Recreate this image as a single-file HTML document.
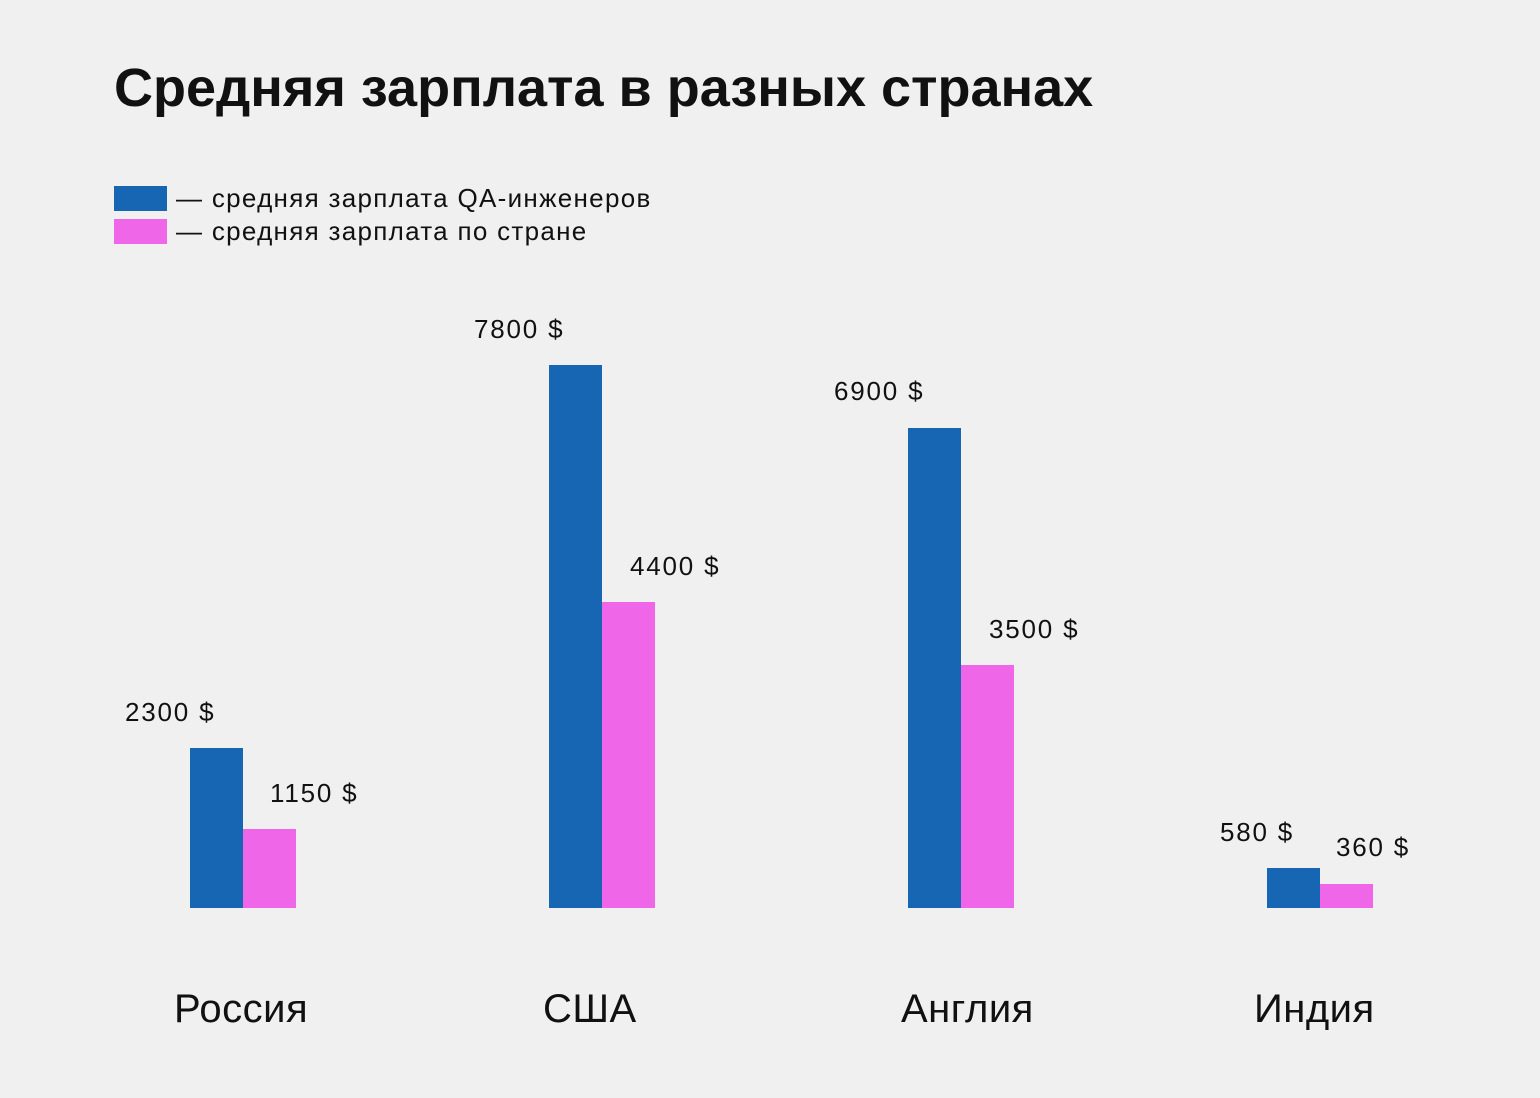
<!DOCTYPE html>
<html><head><meta charset="utf-8"><style>
body{margin:0;width:1540px;height:1098px;background:#f0f0f0;position:relative;overflow:hidden;font-family:"Liberation Sans","DejaVu Sans",sans-serif;color:#111}
.t{position:absolute;white-space:nowrap}
.b{position:absolute;width:53px}
.bl{background:#1766b3}.pk{background:#f066e8}
.v{font-size:26px;line-height:1;letter-spacing:1.8px}
.c{font-size:40px;line-height:1;letter-spacing:0.5px}
</style></head><body>
<div class="t" style="left:114px;top:57px;font-size:54px;font-weight:bold;letter-spacing:0px">Средняя зарплата в разных странах</div>
<div class="b bl" style="left:114px;top:186px;height:25px"></div>
<div class="b pk" style="left:114px;top:219px;height:25px"></div>
<div class="t" style="left:176px;top:183px;font-size:26px;letter-spacing:1.3px">— средняя зарплата QA-инженеров</div>
<div class="t" style="left:176px;top:216px;font-size:26px;letter-spacing:1.3px">— средняя зарплата по стране</div>

<div class="b bl" style="left:190px;top:748px;height:160px"></div>
<div class="b pk" style="left:243px;top:829px;height:79px"></div>
<div class="b bl" style="left:549px;top:365px;height:543px"></div>
<div class="b pk" style="left:602px;top:602px;height:306px"></div>
<div class="b bl" style="left:908px;top:428px;height:480px"></div>
<div class="b pk" style="left:961px;top:665px;height:243px"></div>
<div class="b bl" style="left:1267px;top:868px;height:40px"></div>
<div class="b pk" style="left:1320px;top:884px;height:24px"></div>

<div class="t v" style="left:125px;top:699px">2300 $</div>
<div class="t v" style="left:270px;top:780px">1150 $</div>
<div class="t v" style="left:474px;top:316px">7800 $</div>
<div class="t v" style="left:630px;top:553px">4400 $</div>
<div class="t v" style="left:834px;top:378px">6900 $</div>
<div class="t v" style="left:989px;top:616px">3500 $</div>
<div class="t v" style="left:1220px;top:819px">580 $</div>
<div class="t v" style="left:1336px;top:834px">360 $</div>

<div class="t c" style="left:174px;top:989px">Россия</div>
<div class="t c" style="left:543px;top:989px">США</div>
<div class="t c" style="left:901px;top:989px">Англия</div>
<div class="t c" style="left:1254px;top:989px">Индия</div>
</body></html>
